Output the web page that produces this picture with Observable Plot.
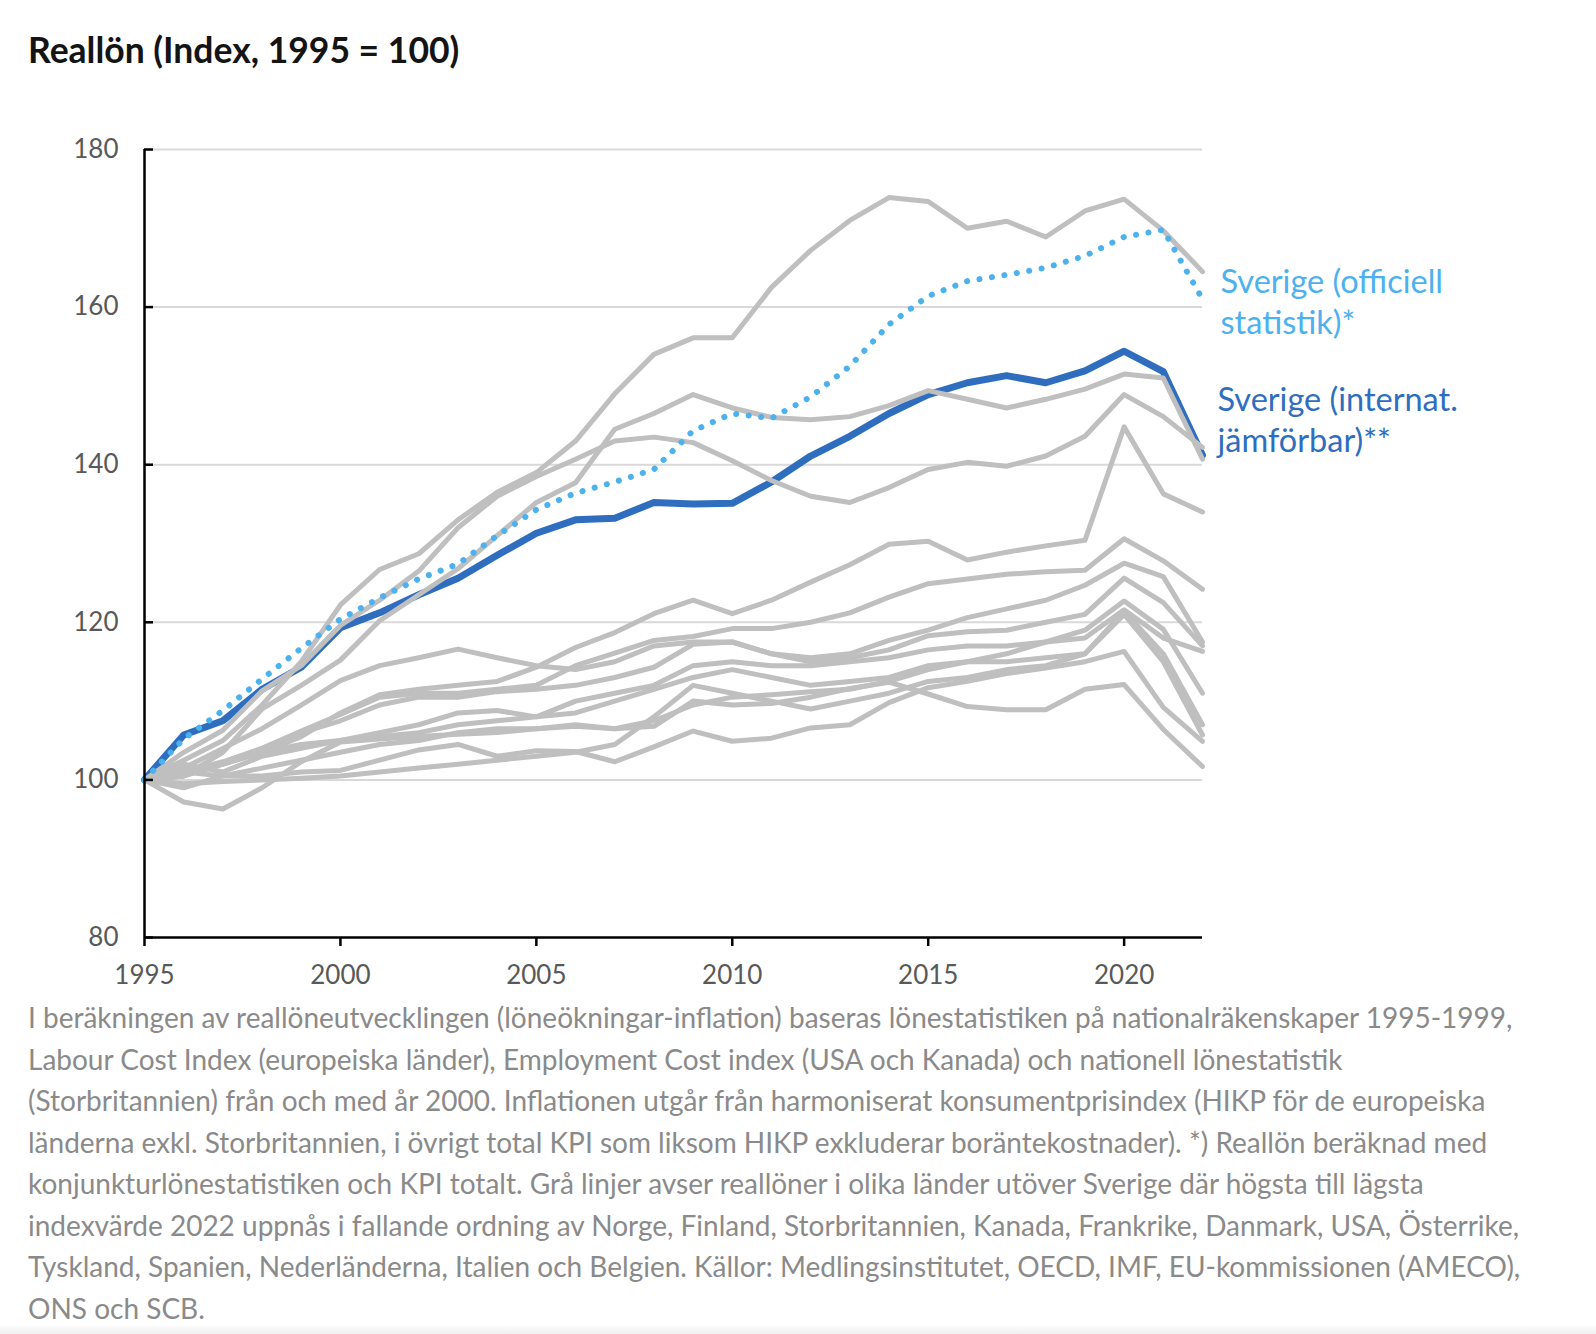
<!DOCTYPE html>
<html>
<head>
<meta charset="utf-8">
<script src="https://cdn.jsdelivr.net/npm/d3@7"></script>
<script src="https://cdn.jsdelivr.net/npm/@observablehq/plot@0.6"></script>
<style>
  html, body { margin: 0; padding: 0; background: #fff; }
  body { width: 1596px; height: 1334px; position: relative; overflow: hidden; font-family: Lato, sans-serif; }
  #title { position: absolute; left: 28px; top: 28px; font-size: 35.5px; font-weight: 700; color: #141414; white-space: nowrap; }
  #chart { position: absolute; left: 0; top: 100px; }
  #caption { position: absolute; left: 28px; top: 997px; font-size: 28px; line-height: 41.5px; color: #8a8a8a; white-space: nowrap; }
  #bottom { position: absolute; left: 0; top: 1326px; width: 1596px; height: 8px; background: linear-gradient(#fbfbfb, #f0f0f0); }
</style>
</head>
<body>
<div id="title">Reallön (Index, 1995 = 100)</div>
<div id="chart"></div>
<div id="caption"></div>
<div id="bottom"></div>
<script>
const years = [1995,1996,1997,1998,1999,2000,2001,2002,2003,2004,2005,2006,2007,2008,2009,2010,2011,2012,2013,2014,2015,2016,2017,2018,2019,2020,2021,2022];

// Sverige
const sverigeInternat = [100,105.7,107.5,111.5,114.3,119.3,121.2,123.5,125.6,128.5,131.3,133,133.2,135.2,135,135.1,137.8,141.1,143.6,146.5,148.9,150.4,151.3,150.4,151.9,154.4,151.8,141.2];
const sverigeOfficiell = [100,105.2,108.8,112.8,116.7,120.4,123.1,125.5,127.4,131,134.3,136.4,137.8,139.4,144.3,146.5,145.9,148.6,152.5,157.8,161.4,163.3,164.1,165,166.5,168.9,169.8,161];

// Övriga länder (grå linjer)
const norge          = [100,102.5,105,109.5,115,122.2,126.7,128.7,133,136.5,139,143,149,154,156.1,156.1,162.5,167.2,171,173.9,173.4,170,170.9,168.9,172.2,173.7,169.7,164.5];
const finland        = [100,103.5,106.3,111.3,114.5,119.6,122.8,126.5,132,136,138.5,140.7,143,143.5,142.8,140.5,138,136,135.2,137.1,139.4,140.3,139.8,141.1,143.6,148.9,146.1,142.2];
const storbritannien = [100,100.5,103.5,109,112,115.2,120.2,123.5,126.8,131,135.2,137.7,144.5,146.5,148.9,147.2,146,145.7,146.1,147.5,149.4,148.3,147.2,148.3,149.6,151.5,151,140.7];
const kanada         = [100,100.5,102,103.5,105.5,108.5,110.8,111.5,112,112.5,114.3,116.8,118.7,121.1,122.8,121.1,122.8,125.1,127.3,129.9,130.3,127.9,128.9,129.7,130.4,144.8,136.3,134];
const frankrike      = [100,101,102.3,104,106.2,108.3,110.5,111,111,111.5,112,114.5,116.1,117.7,118.2,119.2,119.2,120,121.2,123.2,124.9,125.5,126.1,126.4,126.6,130.6,127.8,124.2];
const danmark        = [100,101.5,104,106.5,109.5,112.6,114.5,115.5,116.6,115.5,114.5,114,115,117,117.5,117.5,116,115.5,116,117.7,119,120.6,121.7,122.8,124.7,127.5,125.8,117.5];
const usa            = [100,100.5,102,104,106,107.5,109.5,110.5,110.5,111.2,111.5,112,113,114.3,117.2,117.5,116,115,115.5,116.5,118.3,118.8,119,120,121,125.6,122.5,117];
const osterrike      = [100,102,101,103,104,105,105.5,106,107,107.5,108,110,111,112,114.5,115,114.5,114.5,115,115.5,116.5,117,117,117.5,118,121.6,118,116.3];
const tyskland       = [100,101,100.5,101.5,102.5,103.5,104.5,105,106,106.5,106.5,106.8,106.5,107.5,109.5,110.5,110.8,111.2,111.5,112.5,114,115,116,117.5,119,122.7,119.1,111];
const spanien        = [100,99.5,99.8,100,100.2,100.5,101,101.5,102,102.5,103,103.5,104.5,108,112,111,110,109,110,111,112.5,113,114,114.5,116,121.4,116,107];
const nederlanderna  = [100,101,102,103.5,104.5,105,106,107,108.5,108.8,108,108.5,110,111.5,113,114,113,112,112.5,113,114.5,115,115,115.5,116,121,115,105.7];
const italien        = [100,99,100.5,100.5,101,101.2,102.5,103.8,104.5,103,103.7,103.6,102.3,104.2,106.2,104.9,105.3,106.6,107,109.8,111.7,112.5,113.5,114.2,115,116.3,109.2,104.9];
const belgien        = [100,97.2,96.3,99,102.3,104.8,105.2,105.5,105.8,106,106.5,107,106.5,106.8,110,109.5,109.7,110.5,111.6,112.4,110.9,109.3,108.9,108.9,111.5,112.1,106.4,101.7];

const countries = ["Norge","Finland","Storbritannien","Kanada","Frankrike","Danmark","USA","Österrike","Tyskland","Spanien","Nederländerna","Italien","Belgien"];
const countrySeries = [norge,finland,storbritannien,kanada,frankrike,danmark,usa,osterrike,tyskland,spanien,nederlanderna,italien,belgien];

const xTicks = [1995,2000,2005,2010,2015,2020];
const yTicks = [80,100,120,140,160,180];
const gridTicks = [100,120,140,160,180];

const labelOfficiell = "Sverige (officiell\nstatistik)*";
const labelInternat = "Sverige (internat.\njämförbar)**";

const captionLines = [
  "I beräkningen av reallöneutvecklingen (löneökningar-inflation) baseras lönestatistiken på nationalräkenskaper 1995-1999,",
  "Labour Cost Index (europeiska länder), Employment Cost index (USA och Kanada) och nationell lönestatistik",
  "(Storbritannien) från och med år 2000. Inflationen utgår från harmoniserat konsumentprisindex (HIKP för de europeiska",
  "länderna exkl. Storbritannien, i övrigt total KPI som liksom HIKP exkluderar boräntekostnader). *) Reallön beräknad med",
  "konjunkturlönestatistiken och KPI totalt. Grå linjer avser reallöner i olika länder utöver Sverige där högsta till lägsta",
  "indexvärde 2022 uppnås i fallande ordning av Norge, Finland, Storbritannien, Kanada, Frankrike, Danmark, USA, Österrike,",
  "Tyskland, Spanien, Nederländerna, Italien och Belgien. Källor: Medlingsinstitutet, OECD, IMF, EU-kommissionen (AMECO),",
  "ONS och SCB."
];

// Build tables
const grayData = [];
countries.forEach((c, i) => years.forEach((y, j) => grayData.push({country: c, year: y, value: countrySeries[i][j]})));
const internatData = years.map((y, j) => ({year: y, value: sverigeInternat[j]}));
const officiellData = years.map((y, j) => ({year: y, value: sverigeOfficiell[j]}));
const last = years.length - 1;

const chart = Plot.plot({
  width: 1596,
  height: 900,
  marginLeft: 144,
  marginRight: 394,
  marginTop: 49,
  marginBottom: 63,
  x: {domain: [1995, 2022]},
  y: {domain: [80, 180]},
  style: {fontFamily: "Lato, sans-serif", fontSize: "25px", color: "#595959", background: "transparent", overflow: "visible"},
  marks: [
    Plot.ruleY(gridTicks, {stroke: "#d9d9d9", strokeWidth: 2}),
    Plot.line(internatData, {x: "year", y: "value", stroke: "#2F6EBF", strokeWidth: 7, strokeLinejoin: "round"}),
    Plot.line(grayData, {x: "year", y: "value", z: "country", stroke: "#BFBFBF", strokeWidth: 5, strokeLinejoin: "round"}),
    Plot.line(officiellData, {x: "year", y: "value", stroke: "#4DB1EE", strokeWidth: 6, strokeDasharray: "0.1 12.5", strokeLinecap: "round"}),
    Plot.ruleY([80], {stroke: "#000", strokeWidth: 2.5}),
    Plot.ruleX([1995], {stroke: "#000", strokeWidth: 2.5}),
    Plot.axisX({ticks: xTicks, tickFormat: d => String(d), tickSize: 9, tickPadding: 19, stroke: "#000", strokeWidth: 2.5, fill: "#595959", label: null, fontSize: 26}),
    Plot.axisY({ticks: yTicks, tickFormat: d => String(d), tickSize: -9, tickPadding: 35, stroke: "#000", strokeWidth: 2.5, fill: "#595959", label: null, fontSize: 26}),
    Plot.text([officiellData[last]], {x: "year", y: "value", text: () => labelOfficiell, textAnchor: "start", lineAnchor: "middle", lineHeight: 1.26, dx: 18, dy: 1, fill: "#4DB1EE", fontSize: 32.5, fontFamily: "Lato, sans-serif"}),
    Plot.text([internatData[last]], {x: "year", y: "value", text: () => labelInternat, textAnchor: "start", lineAnchor: "middle", lineHeight: 1.26, dx: 15, dy: -37, fill: "#2F6EBF", fontSize: 32.5, fontFamily: "Lato, sans-serif"})
  ]
});
document.getElementById("chart").appendChild(chart);

const cap = document.getElementById("caption");
captionLines.forEach(t => { const d = document.createElement("div"); d.textContent = t; cap.appendChild(d); });
</script>
</body>
</html>
